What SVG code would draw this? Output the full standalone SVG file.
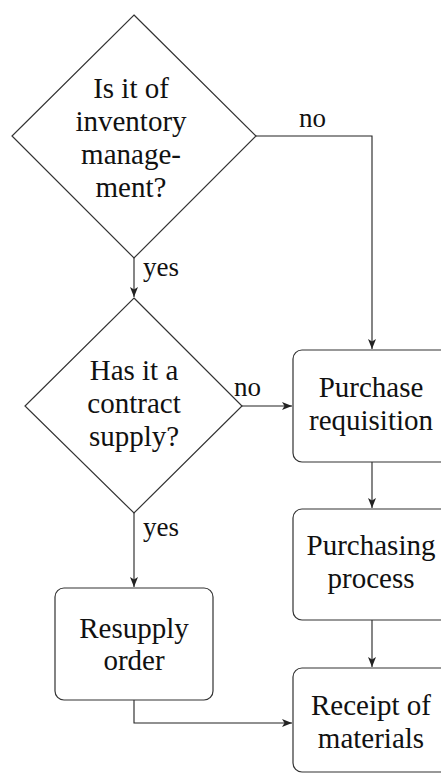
<svg xmlns="http://www.w3.org/2000/svg" width="441" height="775" viewBox="0 0 441 775">
<defs>
<style>
.shape{fill:#fff;stroke:#333;stroke-width:1.2}
.edge{fill:none;stroke:#222;stroke-width:1.1}
.t{font-size:29px;fill:#111;text-anchor:middle}
.lbl{font-size:27px;fill:#111;text-anchor:start}
</style>
<marker id="arr" viewBox="0 0 10 8" refX="10" refY="4" markerWidth="10" markerHeight="8" markerUnits="userSpaceOnUse" orient="auto">
<path d="M0,0 L10,4 L0,8 L2.5,4 Z" fill="#222"/>
</marker>
</defs>
<rect width="441" height="775" fill="#fff"/>
<g font-family="Liberation Serif, DejaVu Serif, serif">
<g id="edges">
<path class="edge" d="M256,136 H372 V349" marker-end="url(#arr)"/>
<path class="edge" d="M134,258 V297" marker-end="url(#arr)"/>
<path class="edge" d="M242,406 H292" marker-end="url(#arr)"/>
<path class="edge" d="M134,513 V587" marker-end="url(#arr)"/>
<path class="edge" d="M372,462 V508" marker-end="url(#arr)"/>
<path class="edge" d="M372,620 V667" marker-end="url(#arr)"/>
<path class="edge" d="M134,700 V723 H292" marker-end="url(#arr)"/>
<text class="lbl" x="299" y="127">no</text>
<text class="lbl" x="143" y="276">yes</text>
<text class="lbl" x="234" y="396">no</text>
<text class="lbl" x="143" y="536">yes</text>
</g>
<g id="d1">
<polygon class="shape" points="134,15 256,136 134,258 12,136"/>
<text class="t" x="131" y="98">Is it of</text>
<text class="t" x="131" y="131">inventory</text>
<text class="t" x="131" y="164">manage-</text>
<text class="t" x="131" y="197">ment?</text>
</g>
<g id="d2">
<polygon class="shape" points="134,298 242,406 134,513 25,406"/>
<text class="t" x="134" y="380">Has it a</text>
<text class="t" x="134" y="413">contract</text>
<text class="t" x="134" y="446">supply?</text>
</g>
<g id="n_req">
<rect class="shape" x="293" y="350" width="158" height="112" rx="9"/>
<text class="t" x="371" y="397">Purchase</text>
<text class="t" x="371" y="430">requisition</text>
</g>
<g id="n_proc">
<rect class="shape" x="293" y="509" width="158" height="111" rx="9"/>
<text class="t" x="371" y="555">Purchasing</text>
<text class="t" x="371" y="588">process</text>
</g>
<g id="n_rec">
<rect class="shape" x="293" y="668" width="158" height="104" rx="9"/>
<text class="t" x="371" y="715">Receipt of</text>
<text class="t" x="371" y="748">materials</text>
</g>
<g id="n_resup">
<rect class="shape" x="55" y="588" width="158" height="112" rx="9"/>
<text class="t" x="134" y="638">Resupply</text>
<text class="t" x="134" y="670">order</text>
</g>
</g>
</svg>
